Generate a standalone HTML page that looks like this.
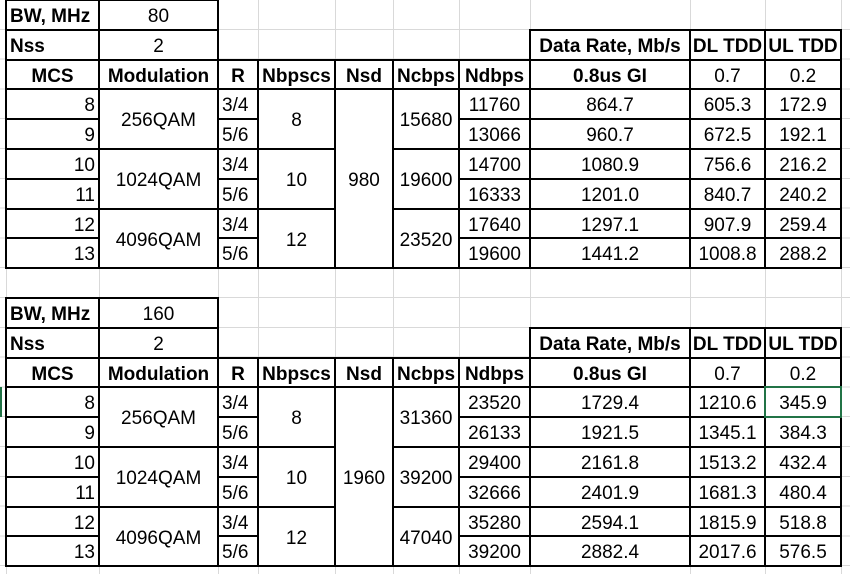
<!DOCTYPE html>
<html><head><meta charset="utf-8"><style>
html,body{margin:0;padding:0;background:#fff;}
#sheet{position:relative;width:850px;height:574px;overflow:hidden;font-family:"Liberation Sans",sans-serif;font-size:19px;color:#000;
background-image:repeating-linear-gradient(to bottom,transparent 0,transparent 28.8px,#d9d9d9 28.8px,#d9d9d9 29.8px);}
.v{position:absolute;top:0;height:574px;width:1px;background:#d9d9d9;}
.c{position:absolute;box-sizing:border-box;display:flex;align-items:center;justify-content:center;background:#fff;white-space:nowrap;padding:4px 3px 0 3px;}
.b{border:2px solid #000;}
.bold{font-weight:bold;}
.r{justify-content:flex-end;}
.l{justify-content:flex-start;}
</style></head><body>
<div id="sheet"></div>
<script>
const colX=[6,99,218,258,335,393,459,530,690,765,841];
const H=29.8;
const bwValues=["80","160"];
const nssValues=["2","2"];
const nsdValues=["980","1960"];
const mcsList=["8","9","10","11","12","13"];
const modList=["256QAM","1024QAM","4096QAM"];
const rateList=["3/4","5/6","3/4","5/6","3/4","5/6"];
const nbpscsList=["8","10","12"];
const ncbpsT=[["15680","19600","23520"],["31360","39200","47040"]];
const ndbpsT=[["11760","13066","14700","16333","17640","19600"],["23520","26133","29400","32666","35280","39200"]];
const dataRateT=[["864.7","960.7","1080.9","1201.0","1297.1","1441.2"],["1729.4","1921.5","2161.8","2401.9","2594.1","2882.4"]];
const dlT=[["605.3","672.5","756.6","840.7","907.9","1008.8"],["1210.6","1345.1","1513.2","1681.3","1815.9","2017.6"]];
const ulT=[["172.9","192.1","216.2","240.2","259.4","288.2"],["345.9","384.3","432.4","480.4","518.8","576.5"]];
const headers=["MCS","Modulation","R","Nbpscs","Nsd","Ncbps","Ndbps","0.8us GI","0.7","0.2"];
const sheet=document.getElementById('sheet');
[6,99,218,258,335,393,459,530,690,765,841].forEach(x=>{
  const d=document.createElement('div');d.className='v';d.style.left=x+'px';
  
  
  sheet.appendChild(d);
});
function cell(c1,c2,r1,r2,text,cls,name){
  const d=document.createElement('div');
  d.className='c b '+(cls||'');
  const x1=colX[c1],x2=colX[c2];
  const y1=Math.round(r1*H),y2=Math.round(r2*H);
  d.style.left=(x1-1)+'px';d.style.width=(x2-x1+2)+'px';
  d.style.top=(y1-1)+'px';d.style.height=(y2-y1+2)+'px';
  d.textContent=text;
  
  
  sheet.appendChild(d);
  return d;
}
for(let t=0;t<2;t++){
  const R=t*10;
  cell(0,1,R,R+1,"BW, MHz","bold l","bw-label");
  cell(1,2,R,R+1,bwValues[t],"","bw-value");
  cell(0,1,R+1,R+2,"Nss","bold l","nss-label");
  cell(1,2,R+1,R+2,nssValues[t],"","nss-value");
  cell(7,8,R+1,R+2,"Data Rate, Mb/s","bold","data-rate-header");
  cell(8,9,R+1,R+2,"DL TDD","bold","dl-tdd-header");
  cell(9,10,R+1,R+2,"UL TDD","bold","ul-tdd-header");
  headers.forEach((h,i)=>{
    cell(i,i+1,R+2,R+3,h,(i<8)?"bold":"","column-header");
  });
  const s=R+3;
  for(let k=0;k<6;k++){
    cell(0,1,s+k,s+k+1,mcsList[k],"r","mcs-cell");
    cell(2,3,s+k,s+k+1,rateList[k],"l","rate-cell");
    cell(6,7,s+k,s+k+1,ndbpsT[t][k],"","ndbps-cell");
    cell(7,8,s+k,s+k+1,dataRateT[t][k],"","data-rate-cell");
    cell(8,9,s+k,s+k+1,dlT[t][k],"","dl-tdd-cell");
    cell(9,10,s+k,s+k+1,ulT[t][k],"","ul-tdd-cell");
  }
  for(let g=0;g<3;g++){
    cell(1,2,s+2*g,s+2*g+2,modList[g],"","modulation-cell");
    cell(3,4,s+2*g,s+2*g+2,nbpscsList[g],"","nbpscs-cell");
    cell(5,6,s+2*g,s+2*g+2,ncbpsT[t][g],"","ncbps-cell");
  }
  cell(4,5,s,s+6,nsdValues[t],"","nsd-cell");
}
const sel=document.createElement('div');


sel.style.cssText='position:absolute;left:764px;top:'+(Math.round(13*H)-1)+'px;width:78px;height:'+(Math.round(14*H)-Math.round(13*H)+2)+'px;border:2px solid #217346;box-sizing:border-box;';
sheet.appendChild(sel);
const rh=document.createElement('div');


rh.style.cssText='position:absolute;left:0;top:'+Math.round(13*H)+'px;width:2px;height:30px;background:#217346;';
sheet.appendChild(rh);
</script>
</body></html>
